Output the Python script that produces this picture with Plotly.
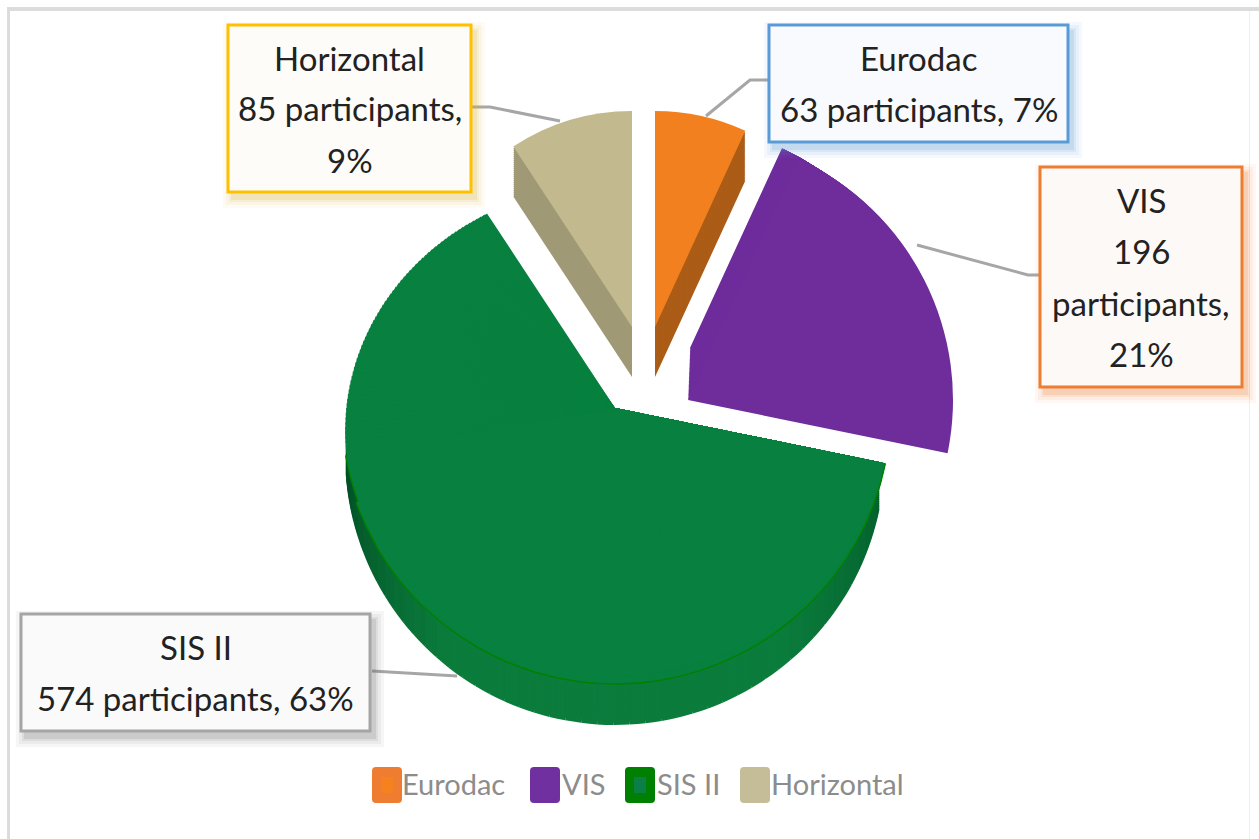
import math
import plotly.graph_objects as go

W, H = 1259, 839

# ---- data ----
categories = ["Eurodac", "VIS", "SIS II", "Horizontal"]
participants = [63, 196, 574, 85]
callout_lines = [
    ["Eurodac", "63 participants, 7%"],
    ["VIS", "196", "participants,", "21%"],
    ["SIS II", "574 participants, 63%"],
    ["Horizontal", "85 participants,", "9%"],
]

# ---- styles ----
face_colors = ["#f2801f", "#6f2d9c", "#08803f", "#c2b98f"]
side_colors = ["#ab5c16", "#6f2d9c", "#0a7a3a", "#a09976"]
legend_outer = ["#ee7d31", "#7030a0", "#008000", "#c4bd97"]
legend_inner = ["#f5821f", "#7030a0", "#0b7f45", "#c4bd97"]
box_border = ["#5b9bd5", "#ed7d31", "#a5a5a5", "#ffc000"]
box_fill = ["#f8fafd", "#fdf9f6", "#fafafa", "#fdfcf8"]
shadow_rgb = ["91,155,213", "237,125,49", "110,110,110", "215,180,60"]

FONT = "Lato, sans-serif"
TRANSPARENT = "rgba(0,0,0,0)"

total = sum(participants)
starts = [sum(participants[:i]) / total * 360 for i in range(len(participants))]
sweeps = [v / total * 360 for v in participants]


def wedge(i, cx, cy, r, color=None, colors=None, sweep_share=1.0):
    """A slice (or the leading share of it) drawn as its own go.Pie around a pixel centre."""
    v = participants[i] * sweep_share
    parts = len(colors) if colors else 1
    vals = [v / parts] * parts + [total - v]
    cols = (colors or [color]) + [TRANSPARENT]
    return go.Pie(
        values=vals, labels=[f"{categories[i]} {k}" for k in range(parts)] + ["rest"],
        sort=False, direction="clockwise", rotation=starts[i],
        domain=dict(x=[(cx - r) / W, (cx + r) / W], y=[1 - (cy + r) / H, 1 - (cy - r) / H]),
        marker=dict(colors=cols, line=dict(width=0)),
        textinfo="none", hoverinfo="skip", showlegend=False,
    )


def mix(a, b, t):
    return "#" + "".join(f"{round(a[k] + (b[k] - a[k]) * t):02x}" for k in range(3))


def tilted_radius(ang):
    """Distance from the apex to the rim of the tilted disc, at a clockwise angle."""
    a = math.radians(ang)
    dx, dy = math.sin(a), -math.cos(a)
    rx, ry, off = 270.0, 246.0, 22.0
    A = (dx / rx) ** 2 + (dy / ry) ** 2
    B = 2 * (dy * -off) / ry ** 2
    C = (off / ry) ** 2 - 1
    return (-B + math.sqrt(B * B - 4 * A * C)) / (2 * A)


fig = go.Figure()

# geometry: (centre x, centre y, radius, depth)
EU = (655, 327, 216, 50)
HZ = (632, 327, 216, 50)
SI = (615, 408, 269, 47)
VI_TOP = (690, 348, 220)
VI_BOT = (688, 400, 265)

# SIS II side wall, shaded darker towards its two ends
DARK_L, DARK_R, MID = (3, 78, 38), (5, 92, 44), (11, 124, 60)
side_end = 266.0
side_share = (side_end - starts[2]) / sweeps[2]
sis_parts = 48
sis_shade = []
for k in range(sis_parts):
    ang = starts[2] + (side_end - starts[2]) * (k + 0.5) / sis_parts
    t = (ang - 180) / 86
    if t >= 0:
        sis_shade.append(mix(MID, DARK_L, max(0.0, t - 0.45) / 0.55))
    else:
        sis_shade.append(mix(MID, DARK_R, max(0.0, -t - 0.45) / 0.55))

for d in range(SI[3], 0, -2):
    fig.add_trace(wedge(2, SI[0], SI[1] + d, SI[2] + 1, colors=sis_shade, sweep_share=side_share))

# SIS II rim, then its top face, whose radius tapers as the sweep closes
lower_ends = [260, 250, 240, 225, 210, 195, 180, 160, 140]
for e in lower_ends:
    share = (e - starts[2]) / sweeps[2]
    fig.add_trace(wedge(2, SI[0], SI[1], tilted_radius(e) + 1.5, color="#008000", sweep_share=share))

upper_ends = [starts[2] + sweeps[2]] + list(range(326, 260, -1))
for e in upper_ends + lower_ends:
    share = (e - starts[2]) / sweeps[2]
    fig.add_trace(wedge(2, SI[0], SI[1], tilted_radius(e), color=face_colors[2], sweep_share=share))

for d in range(HZ[3], 0, -2):
    fig.add_trace(wedge(3, HZ[0], HZ[1] + d, HZ[2], color=side_colors[3]))
fig.add_trace(wedge(3, HZ[0], HZ[1], HZ[2], color=face_colors[3]))

for d in range(EU[3], 0, -2):
    fig.add_trace(wedge(0, EU[0], EU[1] + d, EU[2], color=side_colors[0]))
fig.add_trace(wedge(0, EU[0], EU[1], EU[2], color=face_colors[0]))

n = 40
for k in range(n + 1):
    t = k / n
    fig.add_trace(wedge(1,
                        VI_TOP[0] + (VI_BOT[0] - VI_TOP[0]) * t,
                        VI_TOP[1] + (VI_BOT[1] - VI_TOP[1]) * t,
                        VI_TOP[2] + (VI_BOT[2] - VI_TOP[2]) * t,
                        color=face_colors[1]))


def px(x):
    return x / W


def py(y):
    return 1 - y / H


def rect(x0, y0, x1, y1, fill, line=None, lw=0):
    return dict(type="rect", xref="paper", yref="paper", x0=px(x0), x1=px(x1), y0=py(y1), y1=py(y0),
                fillcolor=fill, line=dict(color=line or TRANSPARENT, width=lw))


def polyline(points, color="#a6a6a6", lw=3):
    d = "M " + " L ".join(f"{px(x)} {py(y)}" for x, y in points)
    return dict(type="path", xref="paper", yref="paper", path=d, line=dict(color=color, width=lw))


def rounded(x0, y0, x1, y1, r, fill):
    pts = [(x0 + r, y0), (x1 - r, y0), (x1, y0, x1, y0 + r), (x1, y1 - r), (x1, y1, x1 - r, y1),
           (x0 + r, y1), (x0, y1, x0, y1 - r), (x0, y0 + r), (x0, y0, x0 + r, y0)]
    d = f"M {px(pts[0][0])} {py(pts[0][1])}"
    for p in pts[1:]:
        if len(p) == 2:
            d += f" L {px(p[0])} {py(p[1])}"
        else:
            d += f" Q {px(p[0])} {py(p[1])} {px(p[2])} {py(p[3])}"
    return dict(type="path", xref="paper", yref="paper", path=d + " Z", fillcolor=fill, line=dict(width=0))


shapes = [
    rect(7, 7, 1259, 11, "#dcdcdc"),
    rect(7, 7, 10, 839, "#dcdcdc"),
    rect(1249, 11, 1250, 839, "#efefef"),
]

# connector lines
shapes += [
    polyline([(768, 80), (750, 80), (706, 116)]),
    polyline([(1040, 275), (1028, 275), (917, 245)]),
    polyline([(372, 671), (457, 676)]),
    polyline([(472, 107), (490, 107), (560, 121)]),
]

# callout boxes
boxes = [(769, 25, 1068, 142), (1040, 167, 1242, 387), (21, 614, 370, 731), (228, 25, 471, 192)]
for i, (x0, y0, x1, y1) in enumerate(boxes):
    for g, a in [(9, 0.06), (6, 0.08), (3, 0.11), (1, 0.16)]:
        shapes.append(rect(x0 + 4 - g, y0 + 6 - g, x1 + 5 + g, y1 + 7 + g, f"rgba({shadow_rgb[i]},{a})"))
    shapes.append(rect(x0, y0, x1, y1, box_fill[i], box_border[i], 3))

# legend swatches
swatch_x = [372, 530, 625, 740]
legend_text_x = [400, 560, 655, 769]
annotations = []
for i, x in enumerate(swatch_x):
    shapes.append(rounded(x, 767, x + 30, 803, 4, legend_outer[i]))
    shapes.append(rect(x + 9, 777, x + 21, 793, legend_inner[i]))
    annotations.append(dict(xref="paper", yref="paper", x=px(legend_text_x[i]), y=py(783), xanchor="left",
                            yanchor="middle", text=categories[i], showarrow=False,
                            font=dict(family=FONT, size=29, color="#8c8c8c")))

LINE_GAP = 51
for i, (x0, y0, x1, y1) in enumerate(boxes):
    lines = callout_lines[i]
    for k, line in enumerate(lines):
        yc = (y0 + y1) / 2 + LINE_GAP * (k - (len(lines) - 1) / 2)
        annotations.append(dict(xref="paper", yref="paper", x=px((x0 + x1) / 2), y=py(yc),
                                xanchor="center", yanchor="middle", align="center", text=line,
                                showarrow=False, font=dict(family=FONT, size=33, color="#222222")))

fig.update_layout(
    width=W, height=H, autosize=False,
    margin=dict(l=0, r=0, t=0, b=0),
    paper_bgcolor="#ffffff", plot_bgcolor="#ffffff",
    showlegend=False, shapes=shapes, annotations=annotations,
)
fig.write_html("out.html", config=dict(displayModeBar=False),
               post_script="document.body.style.margin='0';document.documentElement.style.overflow='hidden';")
